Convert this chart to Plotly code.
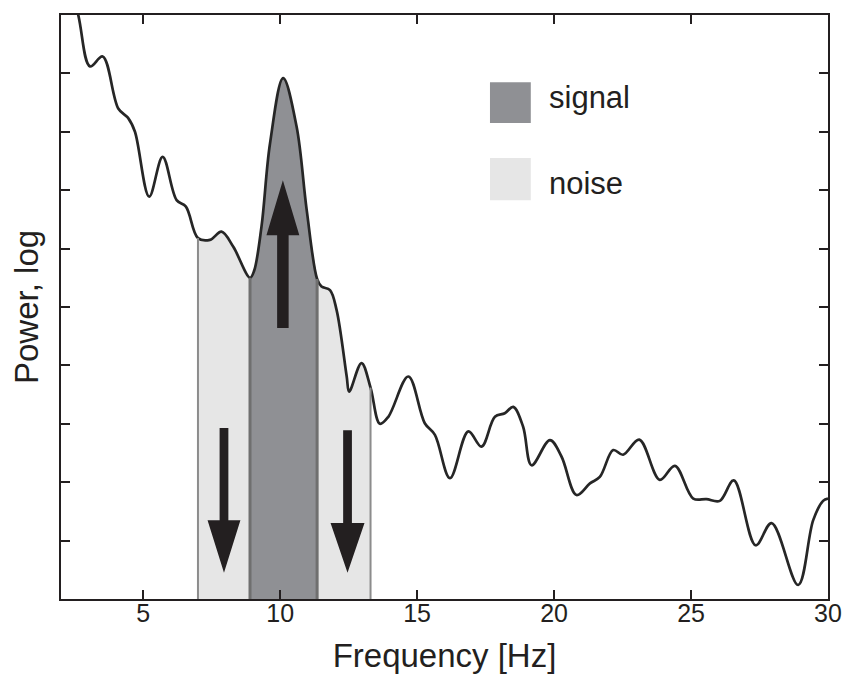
import plotly.graph_objects as go

# ---- data ----
freq = [2.0, 2.63, 3.06, 3.52, 4.09, 4.46, 4.70, 5.22, 5.71, 6.22, 6.56, 7.0, 7.44, 7.86, 8.29,
        8.9, 9.05, 9.32, 9.63, 10.11, 10.60, 10.97, 11.35, 11.51, 11.82, 12.06, 12.43, 12.52,
        12.97, 13.3, 13.64, 13.95, 14.68, 15.28, 15.65, 16.20, 16.87, 17.35, 17.84, 18.20,
        18.51, 18.87, 19.18, 19.85, 20.27, 20.82, 21.31, 21.67, 22.16, 22.52, 23.11, 23.86,
        24.41, 25.08, 25.56, 26.05, 26.56, 27.36, 27.94, 28.91, 29.46, 29.82, 30.0]
power = [11.2, 10.0, 9.12, 9.29, 8.40, 8.23, 8.00, 6.89, 7.57, 6.83, 6.72, 6.18, 6.15, 6.29, 6.03,
         5.50, 5.62, 6.38, 7.80, 8.92, 8.09, 6.66, 5.48, 5.35, 5.29, 4.95, 3.81, 3.55,
         4.04, 3.62, 3.00, 3.12, 3.81, 3.01, 2.81, 2.07, 2.87, 2.61, 3.12, 3.18,
         3.29, 2.95, 2.29, 2.72, 2.44, 1.78, 1.98, 2.09, 2.55, 2.47, 2.73, 2.04,
         2.28, 1.72, 1.71, 1.68, 2.03, 0.92, 1.30, 0.24, 1.35, 1.68, 1.72]

band_names = ["noise", "signal", "noise"]
band_lo = [7.0, 8.9, 11.35]
band_hi = [8.9, 11.35, 13.3]

legend_labels = ["signal", "noise"]
colors = {"signal": "#8f9094", "noise": "#e6e6e6"}
edge_colors = {"signal": "#6f6f6f", "noise": "#8c8c8c"}

# arrows: (x centre, tail y, tip y, head base y, shaft half width, head half width)
arrows = [
    (7.95, 2.93, 0.45, 1.35, 0.16, 0.60),
    (10.1, 4.64, 7.17, 6.23, 0.21, 0.60),
    (12.46, 2.89, 0.45, 1.30, 0.16, 0.62),
]

FONT = "Liberation Sans, Arial, Helvetica, sans-serif"
TXT = "#231f20"

fig = go.Figure()

# band fills under curve
for name, lo, hi in zip(band_names, band_lo, band_hi):
    xs = [f for f in freq if lo <= f <= hi]
    ys = [p for f, p in zip(freq, power) if lo <= f <= hi]
    fig.add_trace(go.Scatter(x=xs, y=ys, mode="lines", line=dict(width=0, shape="spline"),
                             fill="tozeroy", fillcolor=colors[name], showlegend=False,
                             hoverinfo="skip"))

# edges of bands
edge_x = sorted(set(band_lo + band_hi))
for ex in edge_x:
    ey = power[freq.index(ex)]
    is_sig = ex in (band_lo[1], band_hi[1])
    fig.add_shape(type="line", x0=ex, x1=ex, y0=0, y1=ey, xref="x", yref="y",
                  line=dict(color=edge_colors["signal"] if is_sig else edge_colors["noise"],
                            width=3 if is_sig else 2))

# curve
fig.add_trace(go.Scatter(x=freq, y=power, mode="lines",
                         line=dict(color="#262626", width=2.7, shape="spline"),
                         showlegend=False, hoverinfo="skip"))

# arrows
for (ax, tail, tip, base, sw, hw) in arrows:
    path = (f"M {ax-sw},{tail} L {ax+sw},{tail} L {ax+sw},{base} L {ax+hw},{base} "
            f"L {ax},{tip} L {ax-hw},{base} L {ax-sw},{base} Z")
    fig.add_shape(type="path", path=path, xref="x", yref="y",
                  fillcolor="#231f20", line=dict(width=0))

# legend (drawn)
leg_y = [(8.15, 8.85), (6.83, 7.55)]
leg_text_y = [8.58, 7.12]
for lab, (y0, y1), ty in zip(legend_labels, leg_y, leg_text_y):
    fig.add_shape(type="rect", x0=17.66, x1=19.15, y0=y0, y1=y1, xref="x", yref="y",
                  fillcolor=colors[lab], line=dict(width=0))
    fig.add_annotation(x=19.75, y=ty, xref="x", yref="y", text=lab,
                       showarrow=False, xanchor="left", yanchor="middle",
                       font=dict(family=FONT, size=31, color=TXT))

# y-axis title as rotated text
fig.add_annotation(x=0, y=0.5, xref="paper", yref="paper", text="Power, log",
                   textangle=-90, showarrow=False, xanchor="center", yanchor="middle",
                   xshift=-35, font=dict(family=FONT, size=33, color=TXT))

axis_common = dict(showgrid=False, zeroline=False, showline=True, linecolor="#231f20",
                   linewidth=2, mirror="allticks", ticks="inside", ticklen=9,
                   tickwidth=2, tickcolor="#231f20", automargin=False)

fig.update_xaxes(range=[2, 30], tickvals=[5, 10, 15, 20, 25, 30],
                 tickfont=dict(family=FONT, size=25, color=TXT), ticklabelstandoff=-9,
                 title=dict(text="Frequency [Hz]", font=dict(family=FONT, size=33, color=TXT),
                            standoff=18),
                 **axis_common)
fig.update_yaxes(range=[0, 10], tickvals=[1, 2, 3, 4, 5, 6, 7, 8, 9], showticklabels=False,
                 **axis_common)

fig.update_layout(width=845, height=680, margin=dict(l=61, r=17, t=15, b=81),
                  plot_bgcolor="white", paper_bgcolor="white")

fig.write_html("out.html")
